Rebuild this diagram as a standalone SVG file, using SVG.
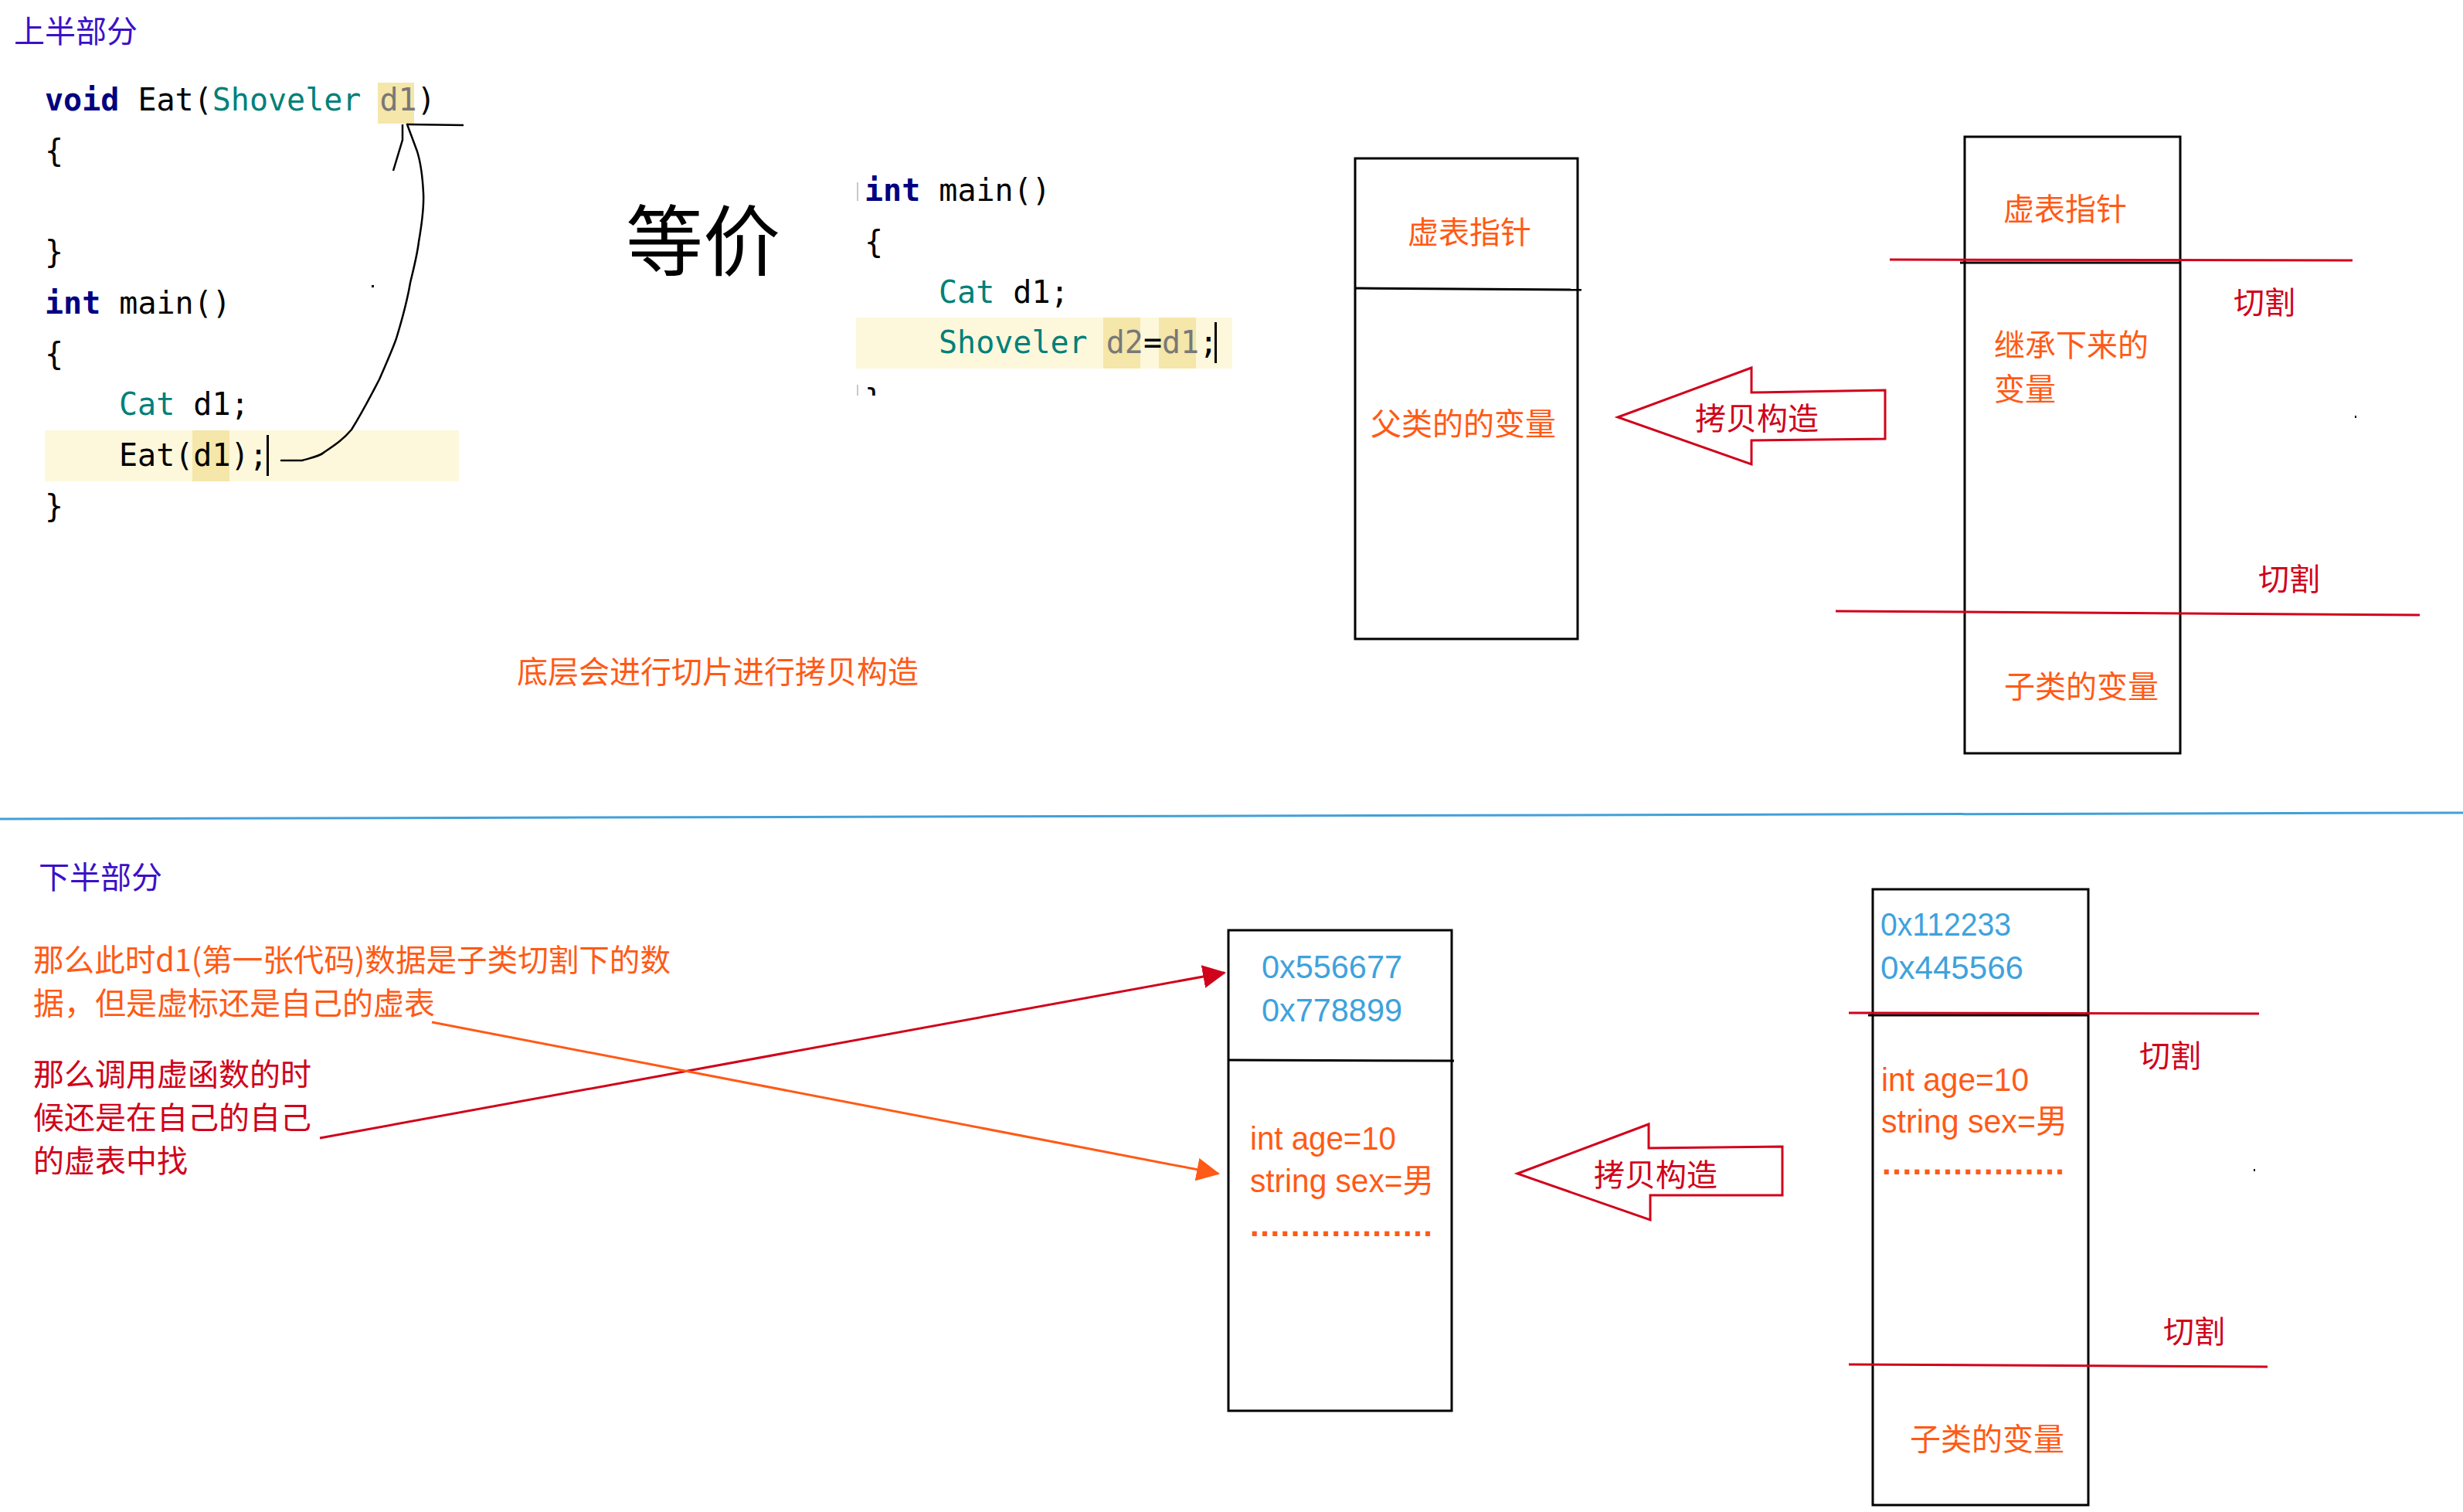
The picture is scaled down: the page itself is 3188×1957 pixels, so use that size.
<svg xmlns="http://www.w3.org/2000/svg" width="3188" height="1957" viewBox="0 0 3188 1957">
<style>
.code{font-family:"DejaVu Sans Mono","Liberation Mono",monospace;font-size:40px;fill:#000}
.kw{font-weight:bold;fill:#000080}
.ty{fill:#00807a}
.var{fill:#787878}
.cjk{font-family:"Noto Sans CJK SC","Noto Sans",sans-serif;font-size:40px}
.lat{font-family:"Liberation Sans","Noto Sans CJK SC",sans-serif;font-size:42px}
.orange{fill:#ff5a16}
.red{fill:#d0021b}
.blue{fill:#3fa2dc}
.title{fill:#3a10c8}
.box{fill:none;stroke:#000;stroke-width:3}
.div{stroke:#000;stroke-width:3}
.cut{stroke:#d0021b;stroke-width:3;fill:none}
.hollow{fill:none;stroke:#d0021b;stroke-width:3;stroke-linejoin:miter}
.hl{fill:#fdf8dc}
.wd{fill:#f5e6a9}
.dots{font-weight:bold}
</style>
<defs>
<marker id="headRed" viewBox="0 0 30 30" refX="28" refY="15" markerWidth="30" markerHeight="30" markerUnits="userSpaceOnUse" orient="auto">
<path d="M0,0 L30,15 L0,30 z" fill="#d0021b"/>
</marker>
<marker id="headOrange" viewBox="0 0 30 30" refX="28" refY="15" markerWidth="30" markerHeight="30" markerUnits="userSpaceOnUse" orient="auto">
<path d="M0,0 L30,15 L0,30 z" fill="#ff5a16"/>
</marker>
<clipPath id="clipCode2"><rect x="1100" y="200" width="520" height="312"/></clipPath>
</defs>
<rect width="3188" height="1957" fill="#fff"/>

<g id="title-top"><text x="18" y="55" class="cjk title">上半部分</text></g>

<g id="code1">
<rect x="489" y="107" width="47" height="53" class="wd"/>
<rect x="58" y="557" width="536" height="66" class="hl"/>
<rect x="249" y="557" width="48" height="66" class="wd"/>
<text x="58" y="143" class="code"><tspan class="kw">void</tspan> Eat(<tspan class="ty">Shoveler</tspan> <tspan class="var">d1</tspan>)</text>
<text x="58" y="209" class="code">{</text>
<text x="58" y="340" class="code">}</text>
<text x="58" y="406" class="code"><tspan class="kw">int</tspan> main()</text>
<text x="58" y="472" class="code">{</text>
<text x="154" y="537" class="code"><tspan class="ty">Cat</tspan> d1;</text>
<text x="154" y="603" class="code">Eat(d1);</text>
<rect x="345" y="563" width="3" height="53" fill="#000"/>
<text x="58" y="669" class="code">}</text>
<rect x="481" y="369" width="3" height="3" fill="#000"/>
</g>

<g id="equiv"><text x="810" y="349" font-family="Noto Sans CJK SC, sans-serif" font-size="100" fill="#000">等价</text></g>

<g id="code2">
<g clip-path="url(#clipCode2)">
<rect x="1108" y="411" width="487" height="66" class="hl"/>
<rect x="1428" y="411" width="48" height="66" class="wd"/>
<rect x="1500" y="411" width="48" height="66" class="wd"/>
<text x="1119" y="260" class="code"><tspan class="kw">int</tspan> main()</text>
<text x="1119" y="327" class="code">{</text>
<text x="1215" y="392" class="code"><tspan class="ty">Cat</tspan> d1;</text>
<text x="1215" y="457" class="code"><tspan class="ty">Shoveler</tspan> <tspan class="var">d2</tspan>=<tspan class="var">d1</tspan>;</text>
<rect x="1572" y="417" width="3" height="53" fill="#000"/>
<text x="1119" y="532" class="code">}</text>
</g>
<line x1="1110" y1="236" x2="1110" y2="260" stroke="#c8c8c8" stroke-width="2"/>
<line x1="1110" y1="498" x2="1110" y2="512" stroke="#c8c8c8" stroke-width="2"/>
</g>

<g id="note-slice"><text x="669" y="884" class="cjk orange">底层会进行切片进行拷贝构造</text></g>

<g id="parent-box-top">
<rect x="1754" y="205" width="288" height="622" class="box"/>
<line x1="1754" y1="373" x2="2047" y2="375" class="div"/>
<text x="1822" y="315" class="cjk orange">虚表指针</text>
<text x="1774" y="563" class="cjk orange">父类的的变量</text>
</g>

<g id="copy-arrow-top">
<path d="M2094,540 L2267,476 L2267,508 L2440,505 L2440,568 L2267,570 L2267,601 Z" class="hollow"/>
<text x="2194" y="556" class="cjk red">拷贝构造</text>
</g>

<g id="child-box-top">
<rect x="2543" y="177" width="279" height="798" class="box"/>
<line x1="2537" y1="340" x2="2822" y2="340" class="div"/>
<text x="2593" y="285" class="cjk orange">虚表指针</text>
<text x="2581" y="461" class="cjk orange">继承下来的</text>
<text x="2581" y="518" class="cjk orange">变量</text>
<text x="2594" y="903" class="cjk orange">子类的变量</text>
</g>

<g id="cuts-top">
<line x1="2446" y1="336" x2="3045" y2="337" class="cut"/>
<line x1="2376" y1="791" x2="3132" y2="796" class="cut"/>
<text x="2891" y="406" class="cjk red">切割</text>
<text x="2923" y="764" class="cjk red">切割</text>
<rect x="3048" y="538" width="2" height="3" fill="#000"/>
</g>

<g id="separator"><line x1="0" y1="1060" x2="3188" y2="1052" stroke="#42a0d8" stroke-width="3"/></g>

<g id="title-bottom"><text x="50" y="1150" class="cjk title">下半部分</text></g>

<g id="note-bottom">
<text x="43" y="1257" class="cjk orange" textLength="825" lengthAdjust="spacingAndGlyphs">那么此时d1(第一张代码)数据是子类切割下的数</text>
<text x="43" y="1313" class="cjk orange">据，但是虚标还是自己的虚表</text>
<text x="43" y="1405" class="cjk red">那么调用虚函数的时</text>
<text x="43" y="1461" class="cjk red">候还是在自己的自己</text>
<text x="43" y="1517" class="cjk red">的虚表中找</text>
</g>

<g id="parent-box-bottom">
<rect x="1590" y="1204" width="289" height="622" class="box"/>
<line x1="1590" y1="1372" x2="1882" y2="1373" class="div"/>
<text x="1633" y="1266" class="lat blue" textLength="182" lengthAdjust="spacingAndGlyphs">0x556677</text>
<text x="1633" y="1322" class="lat blue" textLength="182" lengthAdjust="spacingAndGlyphs">0x778899</text>
<text x="1618" y="1488" class="lat orange" textLength="189" lengthAdjust="spacingAndGlyphs">int age=10</text>
<text x="1618" y="1543" class="lat orange" textLength="238" lengthAdjust="spacingAndGlyphs">string sex=男</text>
<text x="1618" y="1600" class="lat orange dots" textLength="236" lengthAdjust="spacing">..................</text>
</g>

<g id="copy-arrow-bottom">
<path d="M1964,1519 L2134,1455 L2134,1486 L2307,1484 L2307,1547 L2136,1547 L2136,1579 Z" class="hollow"/>
<text x="2063" y="1535" class="cjk red">拷贝构造</text>
</g>

<g id="child-box-bottom">
<rect x="2424" y="1151" width="279" height="797" class="box"/>
<line x1="2418" y1="1314" x2="2703" y2="1314" class="div"/>
<text x="2434" y="1211" class="lat blue" textLength="169" lengthAdjust="spacingAndGlyphs">0x112233</text>
<text x="2434" y="1267" class="lat blue" textLength="185" lengthAdjust="spacingAndGlyphs">0x445566</text>
<text x="2435" y="1412" class="lat orange" textLength="191" lengthAdjust="spacingAndGlyphs">int age=10</text>
<text x="2435" y="1466" class="lat orange" textLength="241" lengthAdjust="spacingAndGlyphs">string sex=男</text>
<text x="2436" y="1520" class="lat orange dots" textLength="236" lengthAdjust="spacing">..................</text>
<text x="2472" y="1877" class="cjk orange">子类的变量</text>
</g>

<g id="cuts-bottom">
<line x1="2393" y1="1311" x2="2924" y2="1312" class="cut"/>
<line x1="2393" y1="1766" x2="2935" y2="1769" class="cut"/>
<text x="2769" y="1381" class="cjk red">切割</text>
<text x="2800" y="1738" class="cjk red">切割</text>
<rect x="2917" y="1513" width="2" height="3" fill="#000"/>
</g>

<g id="connectors" fill="none">
<path d="M364,596 L391,596 C405,592 415,590 420,585 C435,575 445,568 455,556 C470,532 480,512 491,491 C500,470 507,455 513,438 C520,415 527,390 531,366 C536,345 540,330 542,313 C546,290 549,270 548,250 C547,230 545,212 540,196 L527,161" stroke="#000" stroke-width="2.5" stroke-linejoin="round" stroke-linecap="round"/>
<path d="M521,161 L521,181 L509,221" stroke="#000" stroke-width="2.5"/>
<path d="M527,161 L600,162" stroke="#000" stroke-width="2.5"/>
<line x1="414" y1="1473" x2="1585" y2="1259" stroke="#d0021b" stroke-width="3" marker-end="url(#headRed)"/>
<line x1="559" y1="1323" x2="1577" y2="1519" stroke="#ff5a16" stroke-width="3" marker-end="url(#headOrange)"/>
</g>
</svg>
